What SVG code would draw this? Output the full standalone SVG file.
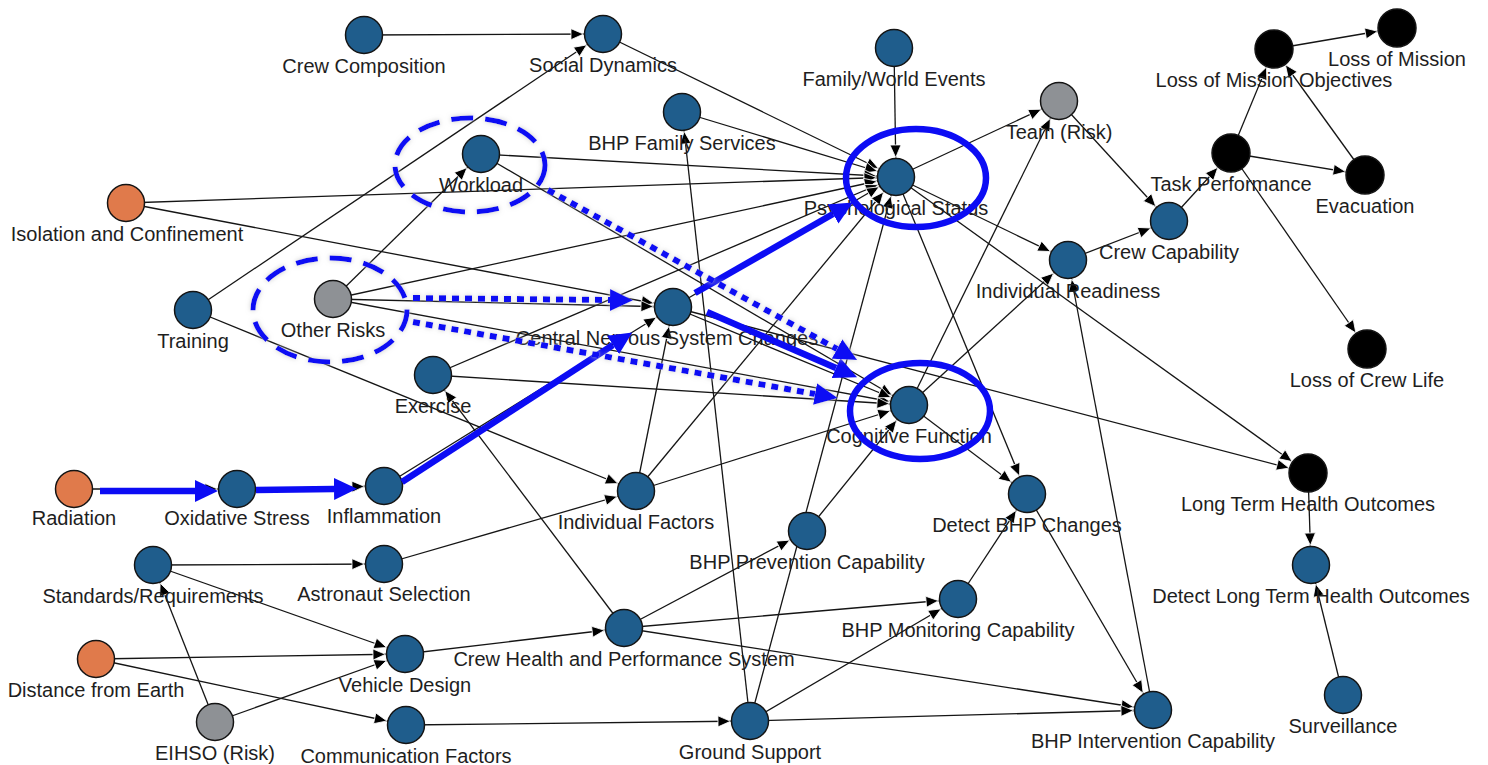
<svg xmlns="http://www.w3.org/2000/svg" width="1488" height="765" viewBox="0 0 1488 765">
<style>
.e{stroke:#151515;stroke-width:1.3;fill:none;marker-end:url(#ah)}
.n circle{stroke:#141414;stroke-width:1.5}
.b{fill:#1f5d8c}.o{fill:#e07a4b}.g{fill:#8e9195}.k{fill:#000}
text{font-family:"Liberation Sans",Arial,sans-serif;font-size:20px;fill:#1e1e1e;text-anchor:middle}
.bs{stroke:#0c0cf4;stroke-width:6.5;fill:none;marker-end:url(#bh)}
.bd{stroke:#0c0cf4;stroke-width:6;fill:none;stroke-dasharray:7 6;marker-end:url(#bh)}
.el{stroke:#0c0cf4;stroke-width:5;fill:none;stroke-dasharray:22 12}
.es{stroke:#0c0cf4;stroke-width:6.5;fill:none}
</style>
<defs>
<marker id="ah" viewBox="-35 -7 37 14" markerWidth="37" markerHeight="14" refX="0" refY="0" markerUnits="userSpaceOnUse" orient="auto">
<path d="M-32,-5.5 L-19.5,0 L-32,5.5 z" fill="#000" stroke="#fff" stroke-width="0.8"/>
</marker>
<marker id="bh" viewBox="0 -12 25 24" markerWidth="25" markerHeight="24" refX="0" refY="0" markerUnits="userSpaceOnUse" orient="auto">
<path d="M0,-11 L23,0 L0,11 z" fill="#0c0cf4"/>
</marker>
<filter id="sh" filterUnits="userSpaceOnUse" x="0" y="0" width="1488" height="765">
<feGaussianBlur in="SourceAlpha" stdDeviation="2.5" result="b"/>
<feColorMatrix in="b" type="matrix" values="0 0 0 0 0.55 0 0 0 0 0.55 0 0 0 0 0.55 0 0 0 0.9 0" result="c"/>
<feMerge><feMergeNode in="c"/><feMergeNode in="SourceGraphic"/></feMerge>
</filter>
</defs>
<rect width="1488" height="765" fill="#fff"/>
<g id="connectors">
<line class="e" x1="364" y1="35" x2="603" y2="34"/>
<line class="e" x1="193" y1="310" x2="603" y2="34"/>
<line class="e" x1="603" y1="34" x2="896" y2="177"/>
<line class="e" x1="894" y1="48" x2="896" y2="177"/>
<line class="e" x1="682" y1="112" x2="896" y2="177"/>
<line class="e" x1="481" y1="154" x2="896" y2="177"/>
<line class="e" x1="481" y1="154" x2="909" y2="405"/>
<line class="e" x1="126" y1="203" x2="896" y2="177"/>
<line class="e" x1="126" y1="203" x2="673" y2="307"/>
<line class="e" x1="333" y1="299" x2="481" y2="154"/>
<line class="e" x1="333" y1="299" x2="896" y2="177"/>
<line class="e" x1="333" y1="299" x2="673" y2="307"/>
<line class="e" x1="333" y1="299" x2="909" y2="405"/>
<line class="e" x1="193" y1="310" x2="636" y2="491"/>
<line class="e" x1="433" y1="375" x2="896" y2="177"/>
<line class="e" x1="433" y1="375" x2="909" y2="405"/>
<line class="e" x1="624" y1="628" x2="433" y2="375"/>
<line class="e" x1="74" y1="489" x2="237" y2="489"/>
<line class="e" x1="237" y1="489" x2="384" y2="486"/>
<line class="e" x1="384" y1="486" x2="673" y2="307"/>
<line class="e" x1="673" y1="307" x2="896" y2="177"/>
<line class="e" x1="673" y1="307" x2="909" y2="405"/>
<line class="e" x1="673" y1="307" x2="1308" y2="473"/>
<line class="e" x1="636" y1="491" x2="673" y2="307"/>
<line class="e" x1="636" y1="491" x2="896" y2="177"/>
<line class="e" x1="636" y1="491" x2="909" y2="405"/>
<line class="e" x1="384" y1="564" x2="636" y2="491"/>
<line class="e" x1="153" y1="565" x2="384" y2="564"/>
<line class="e" x1="153" y1="565" x2="405" y2="654"/>
<line class="e" x1="215" y1="722" x2="153" y2="565"/>
<line class="e" x1="215" y1="722" x2="405" y2="654"/>
<line class="e" x1="96" y1="659" x2="405" y2="654"/>
<line class="e" x1="96" y1="659" x2="406" y2="725"/>
<line class="e" x1="405" y1="654" x2="624" y2="628"/>
<line class="e" x1="406" y1="725" x2="750" y2="721"/>
<line class="e" x1="624" y1="628" x2="807" y2="531"/>
<line class="e" x1="624" y1="628" x2="958" y2="599"/>
<line class="e" x1="624" y1="628" x2="1153" y2="710"/>
<line class="e" x1="750" y1="721" x2="958" y2="599"/>
<line class="e" x1="750" y1="721" x2="1153" y2="710"/>
<line class="e" x1="750" y1="721" x2="896" y2="177"/>
<line class="e" x1="750" y1="721" x2="682" y2="112"/>
<line class="e" x1="807" y1="531" x2="909" y2="405"/>
<line class="e" x1="958" y1="599" x2="1027" y2="494"/>
<line class="e" x1="1027" y1="494" x2="1153" y2="710"/>
<line class="e" x1="909" y1="405" x2="1027" y2="494"/>
<line class="e" x1="896" y1="177" x2="1027" y2="494"/>
<line class="e" x1="909" y1="405" x2="1068" y2="260"/>
<line class="e" x1="909" y1="405" x2="1059" y2="101"/>
<line class="e" x1="896" y1="177" x2="1059" y2="101"/>
<line class="e" x1="896" y1="177" x2="1068" y2="260"/>
<line class="e" x1="896" y1="177" x2="1308" y2="473"/>
<line class="e" x1="1153" y1="710" x2="1068" y2="260"/>
<line class="e" x1="1068" y1="260" x2="1169" y2="221"/>
<line class="e" x1="1059" y1="101" x2="1169" y2="221"/>
<line class="e" x1="1169" y1="221" x2="1231" y2="153"/>
<line class="e" x1="1231" y1="153" x2="1274" y2="49"/>
<line class="e" x1="1231" y1="153" x2="1365" y2="175"/>
<line class="e" x1="1231" y1="153" x2="1367" y2="349"/>
<line class="e" x1="1365" y1="175" x2="1274" y2="49"/>
<line class="e" x1="1274" y1="49" x2="1397" y2="28"/>
<line class="e" x1="1308" y1="473" x2="1311" y2="565"/>
<line class="e" x1="1343" y1="695" x2="1311" y2="565"/>
</g>
<g id="nodes">
<g id="crew-composition" class="n"><circle class="b" cx="364" cy="35" r="18.5"/><text x="364" y="73">Crew Composition</text></g>
<g id="social-dynamics" class="n"><circle class="b" cx="603" cy="34" r="18.5"/><text x="603" y="72">Social Dynamics</text></g>
<g id="family-world-events" class="n"><circle class="b" cx="894" cy="48" r="18.5"/><text x="894" y="86">Family/World Events</text></g>
<g id="bhp-family-services" class="n"><circle class="b" cx="682" cy="112" r="18.5"/><text x="682" y="150">BHP Family Services</text></g>
<g id="workload" class="n"><circle class="b" cx="481" cy="154" r="18.5"/><text x="481" y="192">Workload</text></g>
<g id="psychological-status" class="n"><circle class="b" cx="896" cy="177" r="18.5"/><text x="896" y="215">Psychological Status</text></g>
<g id="team-risk" class="n"><circle class="g" cx="1059" cy="101" r="18.5"/><text x="1059" y="139">Team (Risk)</text></g>
<g id="loss-of-mission-objectives" class="n"><circle class="k" cx="1274" cy="49" r="19"/><text x="1274" y="87">Loss of Mission Objectives</text></g>
<g id="loss-of-mission" class="n"><circle class="k" cx="1397" cy="28" r="19"/><text x="1397" y="66">Loss of Mission</text></g>
<g id="task-performance" class="n"><circle class="k" cx="1231" cy="153" r="19"/><text x="1231" y="191">Task Performance</text></g>
<g id="evacuation" class="n"><circle class="k" cx="1365" cy="175" r="19"/><text x="1365" y="213">Evacuation</text></g>
<g id="crew-capability" class="n"><circle class="b" cx="1169" cy="221" r="18.5"/><text x="1169" y="259">Crew Capability</text></g>
<g id="individual-readiness" class="n"><circle class="b" cx="1068" cy="260" r="18.5"/><text x="1068" y="298">Individual Readiness</text></g>
<g id="loss-of-crew-life" class="n"><circle class="k" cx="1367" cy="349" r="19"/><text x="1367" y="387">Loss of Crew Life</text></g>
<g id="long-term-health-outcomes" class="n"><circle class="k" cx="1308" cy="473" r="19"/><text x="1308" y="511">Long Term Health Outcomes</text></g>
<g id="detect-long-term-health-outcomes" class="n"><circle class="b" cx="1311" cy="565" r="18.5"/><text x="1311" y="603">Detect Long Term Health Outcomes</text></g>
<g id="surveillance" class="n"><circle class="b" cx="1343" cy="695" r="18.5"/><text x="1343" y="733">Surveillance</text></g>
<g id="bhp-intervention-capability" class="n"><circle class="b" cx="1153" cy="710" r="18.5"/><text x="1153" y="748">BHP Intervention Capability</text></g>
<g id="detect-bhp-changes" class="n"><circle class="b" cx="1027" cy="494" r="18.5"/><text x="1027" y="532">Detect BHP Changes</text></g>
<g id="bhp-monitoring-capability" class="n"><circle class="b" cx="958" cy="599" r="18.5"/><text x="958" y="637">BHP Monitoring Capability</text></g>
<g id="bhp-prevention-capability" class="n"><circle class="b" cx="807" cy="531" r="18.5"/><text x="807" y="569">BHP Prevention Capability</text></g>
<g id="ground-support" class="n"><circle class="b" cx="750" cy="721" r="18.5"/><text x="750" y="759">Ground Support</text></g>
<g id="crew-health-performance-system" class="n"><circle class="b" cx="624" cy="628" r="18.5"/><text x="624" y="666">Crew Health and Performance System</text></g>
<g id="cognitive-function" class="n"><circle class="b" cx="909" cy="405" r="18.5"/><text x="909" y="443">Cognitive Function</text></g>
<g id="central-nervous-system-changes" class="n"><circle class="b" cx="673" cy="307" r="18.5"/><text x="667" y="345">Central Nervous System Changes</text></g>
<g id="individual-factors" class="n"><circle class="b" cx="636" cy="491" r="18.5"/><text x="636" y="529">Individual Factors</text></g>
<g id="exercise" class="n"><circle class="b" cx="433" cy="375" r="18.5"/><text x="433" y="413">Exercise</text></g>
<g id="other-risks" class="n"><circle class="g" cx="333" cy="299" r="18.5"/><text x="333" y="337">Other Risks</text></g>
<g id="training" class="n"><circle class="b" cx="193" cy="310" r="18.5"/><text x="193" y="348">Training</text></g>
<g id="isolation-confinement" class="n"><circle class="o" cx="126" cy="203" r="18.5"/><text x="127" y="241">Isolation and Confinement</text></g>
<g id="radiation" class="n"><circle class="o" cx="74" cy="489" r="18.5"/><text x="74" y="525">Radiation</text></g>
<g id="oxidative-stress" class="n"><circle class="b" cx="237" cy="489" r="18.5"/><text x="237" y="525">Oxidative Stress</text></g>
<g id="inflammation" class="n"><circle class="b" cx="384" cy="486" r="18.5"/><text x="384" y="523">Inflammation</text></g>
<g id="standards-requirements" class="n"><circle class="b" cx="153" cy="565" r="18.5"/><text x="153" y="603">Standards/Requirements</text></g>
<g id="astronaut-selection" class="n"><circle class="b" cx="384" cy="564" r="18.5"/><text x="384" y="601">Astronaut Selection</text></g>
<g id="distance-from-earth" class="n"><circle class="o" cx="96" cy="659" r="18.5"/><text x="96" y="697">Distance from Earth</text></g>
<g id="vehicle-design" class="n"><circle class="b" cx="405" cy="654" r="18.5"/><text x="405" y="692">Vehicle Design</text></g>
<g id="eihso-risk" class="n"><circle class="g" cx="215" cy="722" r="18.5"/><text x="215" y="760">EIHSO (Risk)</text></g>
<g id="communication-factors" class="n"><circle class="b" cx="406" cy="725" r="18.5"/><text x="406" y="763">Communication Factors</text></g>
</g>
<g id="highlights">
<line class="bs" x1="100" y1="491" x2="195" y2="491"/>
<line class="bs" x1="256" y1="490" x2="334" y2="489"/>
<line class="bs" x1="402" y1="482" x2="613" y2="345"/>
<line class="bs" x1="695" y1="293" x2="833" y2="214"/>
<line class="bs" x1="707" y1="312" x2="836" y2="368"/>
<g filter="url(#sh)">
<line class="bd" x1="548" y1="190" x2="837" y2="349"/>
<line class="bd" x1="413" y1="298" x2="610" y2="300"/>
<line class="bd" x1="413" y1="322" x2="815" y2="394"/>
<ellipse class="el" cx="470" cy="165" rx="75" ry="47"/>
<ellipse class="el" cx="330" cy="310" rx="77" ry="52"/>
</g>
<ellipse class="es" cx="916" cy="178" rx="70" ry="49"/>
<ellipse class="es" cx="920" cy="411" rx="70" ry="48"/>
</g>
</svg>
